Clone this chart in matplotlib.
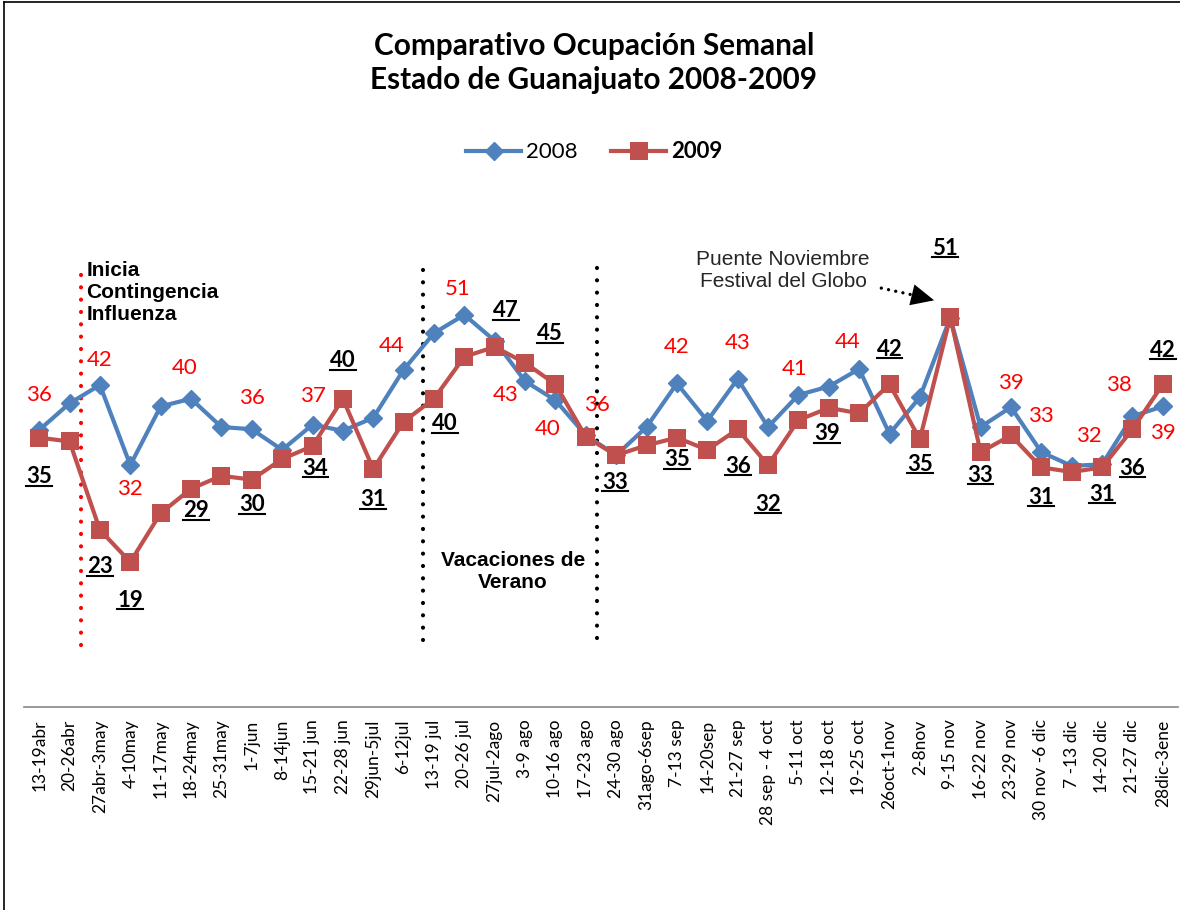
import matplotlib
matplotlib.use("Agg")
import matplotlib.pyplot as plt
from matplotlib.lines import Line2D
import numpy as np

# ---------------------------------------------------------------- datos
semanas = ["13-19abr", "20-26abr", "27abr-3may", "4-10may", "11-17may",
           "18-24may", "25-31may", "1-7jun", "8-14jun", "15-21 jun",
           "22-28 jun", "29jun-5jul", "6-12jul", "13-19 jul", "20-26 jul",
           "27jul-2ago", "3-9 ago", "10-16 ago", "17-23 ago", "24-30 ago",
           "31ago-6sep", "7-13 sep", "14-20sep", "21-27 sep", "28 sep - 4 oct",
           "5-11 oct", "12-18 oct", "19-25 oct", "26oct-1nov", "2-8nov",
           "9-15 nov", "16-22 nov", "23-29 nov", "30 nov -6 dic", "7 -13 dic",
           "14-20 dic", "21-27 dic", "28dic-3ene"]

ocup_2008 = [36.3, 39.8, 42.2, 31.7, 39.4, 40.4, 36.7, 36.4, 33.7, 37.0,
             36.2, 37.9, 44.2, 49.0, 51.4, 48.0, 42.7, 40.2, 35.6, 33.0,
             36.7, 42.4, 37.5, 43.0, 36.7, 40.9, 42.0, 44.3, 35.8, 40.6,
             51.0, 36.7, 39.3, 33.4, 31.6, 31.8, 38.1, 39.4]

ocup_2009 = [35.3, 34.8, 23.2, 19.0, 25.4, 28.6, 30.3, 29.8, 32.5, 34.2,
             40.4, 31.2, 37.4, 40.4, 45.9, 47.2, 45.1, 42.3, 35.4, 33.0,
             34.3, 35.3, 33.7, 36.4, 31.7, 37.6, 39.2, 38.5, 42.3, 35.1,
             51.1, 33.4, 35.6, 31.4, 30.8, 31.4, 36.4, 42.3]

# puntos con etiqueta -> desplazamiento del texto en pixeles
etiq_2008 = {0: (0, 35), 2: (0, 25), 3: (0, -24), 5: (-6, 31), 7: (0, 31),
             9: (0, 29), 12: (-12, 24), 14: (-7, 26), 16: (-19, -14),
             17: (-8, -29), 18: (11, 30), 21: (0, 36), 23: (0, 36),
             25: (-4, 26), 27: (-11, 27), 32: (0, 24), 33: (0, 36),
             35: (-13, 28), 36: (-13, 31), 37: (0, -27)}
etiq_2009 = {0: (0, -41), 2: (0, -39), 3: (0, -40), 5: (5, -24), 7: (0, -27),
             9: (3, -24), 10: (0, 36), 11: (0, -33), 13: (11, -27),
             15: (11, 34), 16: (25, 27), 19: (-1, -29), 21: (0, -24),
             23: (0, -39), 24: (0, -41), 26: (-2, -28), 28: (0, 33),
             29: (0, -27), 30: (-5, 67), 31: (0, -25), 33: (0, -32),
             35: (0, -29), 36: (0, -41), 37: (0, 32)}

azul = "#4F81BD"
rojo = "#C0504D"
calibri = "Lato"
arial = "Liberation Sans"

# ================================  fig  ====================================
fig = plt.figure(figsize=(11.8, 9.1), dpi=100)
ax = fig.add_axes([24/1180, 1-707/910, 1154/1180, 60*7.63/910])

x = np.arange(len(semanas))
ax.plot(x, ocup_2008, "-D", color=azul, lw=3, ms=9.5, mec=azul, label="2008", zorder=3)
ax.plot(x, ocup_2009, "-s", color=rojo, lw=3, ms=13.5, mec=rojo, mew=0, label="2009", zorder=4)

ax.set_xlim(-0.5, len(semanas)-0.5)
ax.set_ylim(0, 60)
ax.set_yticks([])
ax.set_xticks(x)
ax.set_xticklabels(semanas, rotation=90, fontsize=12.5, family=calibri)
ax.tick_params(axis="x", length=0, pad=9)
for s in ["left", "right", "top"]:
    ax.spines[s].set_visible(False)
ax.spines["bottom"].set_color("#868686")
ax.spines["bottom"].set_linewidth(1.2)

# etiquetas de valor
for i, (dx, dy) in etiq_2008.items():
    ax.annotate(f"{ocup_2008[i]:.0f}", (x[i], ocup_2008[i]), xytext=(dx, dy),
                textcoords="offset pixels", ha="center", va="center",
                color="red", fontsize=16, family=calibri, zorder=6)
negras = []
for i, (dx, dy) in etiq_2009.items():
    t = ax.annotate(f"{ocup_2009[i]:.0f}", (x[i], ocup_2009[i]), xytext=(dx, dy+2),
                    textcoords="offset pixels", ha="center", va="center",
                    color="black", fontsize=16, fontweight="bold", family=calibri, zorder=6)
    negras.append(t)

# lineas punteadas de eventos
punteo = dict(lw=3.0, linestyle=(0, (0.01, 2.95)), dash_capstyle="round", clip_on=False)
ax.plot([1.38, 1.38], [8.1, 58.2], color="red", **punteo)
ax.plot([12.63, 12.63], [8.8, 58.7], color="black", **punteo)
ax.plot([18.36, 18.36], [9.0, 59.0], color="black", **punteo)

ax.text(1.55, 58.4, "Inicia\nContingencia\nInfluenza", ha="left", va="top",
        fontsize=15, fontweight="bold", family=arial, linespacing=1.2)
ax.text(15.59, 17.8, "Vacaciones de\nVerano", ha="center", va="center",
        fontsize=15, fontweight="bold", family=arial, linespacing=1.2)
ax.text(24.5, 57.2, "Puente Noviembre\nFestival del Globo", ha="center", va="center",
        fontsize=15, family=arial, color="#262626", linespacing=1.15)
# flecha punteada con punta solida
ax.annotate("", xy=(29.0, 53.8), xytext=(27.73, 54.9),
            arrowprops=dict(arrowstyle="-", linestyle=(0, (0.01, 2.2)), lw=2.4,
                            color="black", capstyle="round", shrinkA=0, shrinkB=0))
ax.annotate("", xy=(29.47, 53.3), xytext=(28.96, 53.8),
            arrowprops=dict(arrowstyle="-|>,head_length=0.75,head_width=0.35", lw=0,
                            color="black", mutation_scale=22, shrinkA=0, shrinkB=0))

# titulo y leyenda
fig.text(594/1180, 1-63/910, "Comparativo Ocupación Semanal\nEstado de Guanajuato 2008-2009",
         ha="center", va="center", fontsize=21.4, fontweight="bold", family=calibri,
         linespacing=1.25)
leg = fig.legend(loc="center", bbox_to_anchor=(594/1180, 1-152/910), ncol=2,
                 frameon=False, prop={"family": calibri, "size": 16},
                 handlelength=2.5, handletextpad=0.2, columnspacing=1.5)
leg.get_texts()[1].set_fontweight("bold")

# borde del grafico
fig.add_artist(Line2D([4/1180, 4/1180], [0, 1-2/910], color="black", lw=1.2))
fig.add_artist(Line2D([4/1180, 1], [1-2/910, 1-2/910], color="black", lw=1.2))

# subrayado de las etiquetas 2009
fig.canvas.draw()
r = fig.canvas.get_renderer()
inv = fig.transFigure.inverted()
for t in negras:
    bb = t.get_window_extent(r)
    (x0, y0), (x1, _) = inv.transform([(bb.x0, bb.y0 + 1.5), (bb.x1, bb.y0)])
    fig.add_artist(Line2D([x0, x1], [y0, y0], color="black", lw=1.5))

fig.savefig("out.png", dpi=100)
